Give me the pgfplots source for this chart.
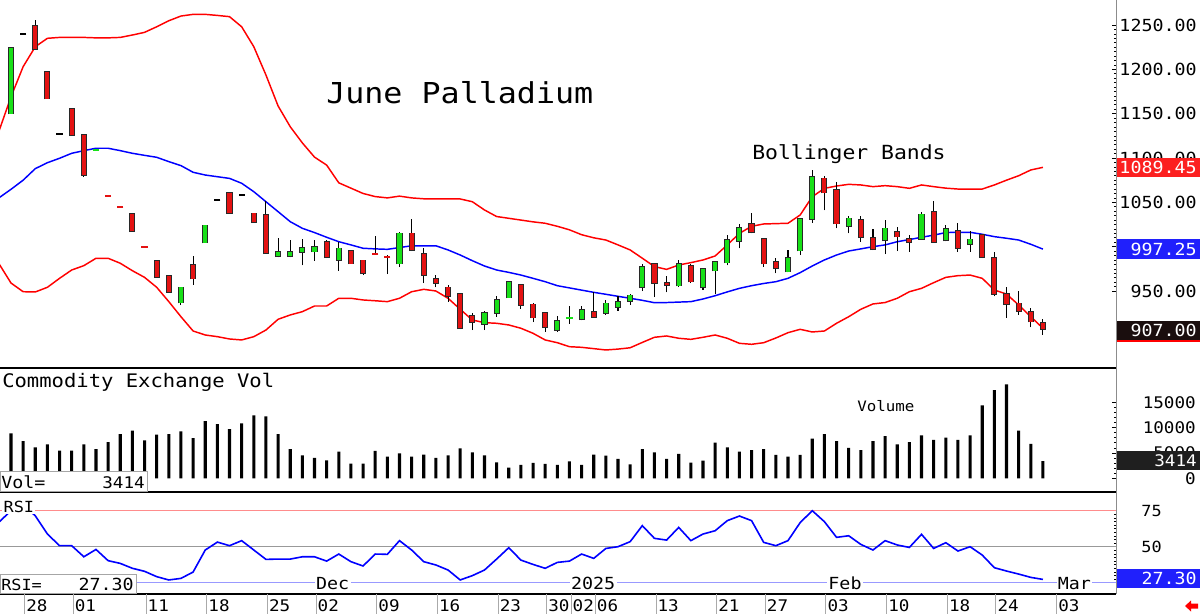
\documentclass[border=0pt]{standalone}
\usepackage{pgfplots}
\pgfplotsset{compat=1.18}
\usepackage{pgfplotstable}
\usepackage{fontspec}
\setmainfont{DejaVu Sans Mono}[FakeStretch=1.1]

\definecolor{cgreen}{RGB}{24,224,24}
\definecolor{cred}{RGB}{228,18,18}
\definecolor{cedge}{RGB}{40,40,40}
\definecolor{bandred}{RGB}{255,0,0}
\definecolor{bandblue}{RGB}{0,0,255}
\definecolor{boxred}{RGB}{252,32,32}
\definecolor{boxblue}{RGB}{32,32,252}
\definecolor{boxdark}{RGB}{26,14,14}
\definecolor{sepgray}{RGB}{170,170,170}

\newcommand\fs[1]{\fontsize{#1}{#1}\selectfont}

% daily candles, index = trading day from Fri 25 Oct 2024
% up days (close above open)
\pgfplotstableread{
idx open high low close
0 1150 1224 1150 1224
14 937 954 934 954
16 1004.5 1024 1004.5 1024
22 989 1010 988 994
23 989 1008 988 994
24 994 1009 979 999
25 994.5 1008 984 999.3
27 985 1005 973 998
32 981 1016 977 1015
39 913 928 906 925
40 925 944 921 940
41 942.5 960.5 942.5 960.5
45 906 922 904 916
47 918 933 917 929
49 925 940 923 936
50 932 944 928 938
51 939 947 934 945
52 954 981 950 977
55 956 985 955 981
57 954 976 951 974.5
58 973 984 946.6 982.4
59 982 1013 979 1007.6
60 1006.5 1026 998 1021.5
64 972 996 971 987
65 995.6 1032 990.6 1031
66 1031 1086.5 1027 1079
69 1023 1035 1015 1032
72 1007 1030 991.7 1020.7
75 1008.7 1039 1008 1036.5
77 1007 1024 1006 1019.6
79 1002.7 1018 994 1008.3
}\upcandles

% down days (close below open)
\pgfplotstableread{
idx open high low close
2 1249 1256 1222.6 1222.6
3 1197 1197 1167 1167
5 1155 1155 1125.5 1125.5
6 1126 1126 1079 1080.5
10 1037 1037 1017.3 1017.3
12 984 984 966 966
13 967 967 949 949
15 979 990 957 964
18 1061 1061 1038 1038
20 1037.6 1037.6 1027.5 1027.5
21 1036 1051.5 992 992.5
26 1005 1008 987 988
28 995 995 981 981
29 984.5 984.5 968 970
33 1015 1031 995 996
34 992 998 959 968
35 964 968 954 959
36 954 957 938 944
37 947 947 907 908
38 922 925 906 915
42 957 957 930 934
43 935 937 915 920
44 925 925 904 909
48 926.5 949 920 921
53 981 982 943 959
54 959.5 967 948.6 957
56 978 980 959 960.5
61 1026 1038 1015 1016
62 1009 1010 977.5 981
63 983 987 970 975.6
67 1077 1080 1041 1061
68 1064 1072.6 1020.7 1026
70 1030 1035 1005.6 1010.5
71 1010 1019.6 996 997
73 1016.5 1022.5 995 1011.3
74 1008.7 1013 994 1005
76 1039 1051 1005 1005.6
78 1018 1027 994 998
80 1013 1014 987 988
81 987 994 944 946.6
82 947 954 920 935
83 936 950 923 927
84 926 930.5 909 915.4
85 913.6 918 900.4 907
}\downcandles

% flat days (open = close), drawn as dashes
\pgfplotstableread{
idx open high low close
1 1240 1240 1240 1240
4 1127 1127 1127 1127
17 1052.3 1052.3 1052.3 1052.3
19 1058 1058 1058 1058
}\flatblack
\pgfplotstableread{
idx open high low close
7 1109 1109 1109 1109
46 919.2 933 913 919.2
}\flatgreen
\pgfplotstableread{
idx open high low close
8 1057 1057 1057 1057
9 1044.4 1044.4 1044.4 1044.4
11 1000 1000 1000 1000
30 991.4 1012 991 991.4
31 988.4 990.5 969 988.4
}\flatred

% Bollinger bands: upper, middle (20-day average), lower
\pgfplotstableread{
idx up mid lo
-1 1130 1055 981
0 1169 1064.7 959
1 1203 1075 949.2
2 1225.5 1088 948.9
3 1235 1094.7 954.2
4 1236 1099.7 964.3
5 1236 1105.3 973.7
6 1236 1108.3 978.6
7 1235.5 1111 986.9
8 1235.5 1111 986.9
9 1236 1108.3 981.3
10 1238.7 1105.3 972.9
11 1241.7 1103 965.4
12 1248 1100.8 954.2
13 1254.8 1095.9 938
14 1260.1 1091.4 921
15 1262 1083.9 904.9
16 1262 1080.8 900.4
17 1260.8 1078.9 898.5
18 1259.4 1077 895.9
19 1248 1071.5 894.8
20 1225.5 1062 898.5
21 1193.6 1050.7 906
22 1158.7 1039.5 918.1
23 1135.3 1028.2 923
24 1117 1020.7 926.7
25 1101 1015.9 933.1
26 1092 1010.6 933.1
27 1072 1005.6 941.8
28 1066 1002 941.8
29 1060 998.2 939.9
30 1056.5 997.5 939
31 1055 997 938
32 1057 999 941.8
33 1055 1001 949.2
34 1054 1001 951.9
35 1054 1001 950
36 1054 996.3 941.8
37 1053.8 990.6 929.4
38 1050.7 984.2 917.3
39 1041.4 978.2 914.3
40 1034 973.7 913.6
41 1032 971 911.7
42 1030 968 908
43 1028 964.3 902.3
44 1026.4 960.5 894.8
45 1023 956 891.7
46 1019 953.5 887.2
47 1013.5 951 886.5
48 1010 948.5 885
49 1007.5 946.3 883.5
50 1002 944 884.5
51 996.3 941.8 886
52 987 939.5 892
53 977.5 936.8 897.8
54 974.4 937 899.3
55 979.3 937.5 896.7
56 982 938 895.5
57 985 941 897.8
58 989.5 944.7 900.4
59 1002 949 896.7
60 1015 953 891
61 1023 956 889.9
62 1025.6 958.5 891.7
63 1026 960.5 897
64 1026.4 964.3 903
65 1035.7 970.7 906.8
66 1056.3 978.2 903.8
67 1065.8 985 904.9
68 1068.4 990.6 913.6
69 1070.3 995.1 921
70 1069.6 997.5 929.4
71 1067.7 1000 935.4
72 1068.8 1002 937
73 1067.7 1005.6 941.8
74 1065.8 1008 949.2
75 1069.6 1010.6 953
76 1067.7 1013 959.4
77 1066 1015.9 965.4
78 1065 1016.2 967.3
79 1065 1016.2 968
80 1065 1014 964.3
81 1069.6 1011.3 951.1
82 1075 1009.5 946.6
83 1080 1007.5 934.2
84 1086.5 1002.7 921
85 1089.45 997.25 908
}\bands

\pgfplotstableread{
idx vol
0 8870
1 7360
2 6110
3 6700
4 5450
5 5450
6 6700
7 5780
8 7160
9 8740
10 9400
11 7490
12 8610
13 8740
14 9260
15 7950
16 11300
17 10710
18 9720
19 10840
20 12420
21 12220
22 8740
23 5780
24 4530
25 4010
26 3550
27 5260
28 2890
29 2890
30 5390
31 4270
32 4930
33 4270
34 4660
35 4010
36 4530
37 5910
38 5120
39 4530
40 3150
41 2100
42 2630
43 3020
44 2830
45 2630
46 3350
47 2630
48 4660
49 4470
50 3810
51 2760
52 5780
53 5120
54 3810
55 4800
56 3090
57 3480
58 7030
59 6110
60 5260
61 5580
62 5780
63 4600
64 4270
65 4600
66 7820
67 8740
68 7360
69 5980
70 5580
71 7360
72 8340
73 6700
74 7160
75 8480
76 7560
77 8020
78 7560
79 8480
80 14390
81 17410
82 18530
83 9400
84 6770
85 3414
}\voltable

\pgfplotstableread{
idx rsi
-1 67
0 75
1 79
2 71.5
3 58.8
4 50.7
5 50.7
6 43
7 48.1
8 40.3
9 38.4
10 35
11 32.9
12 29.2
13 26.9
14 28
15 32.4
16 47.7
17 53.2
18 50.7
19 54.2
20 47.7
21 41.2
22 41.4
23 41.4
24 43
25 43
26 40
27 44.9
28 39.6
29 36.6
30 44.9
31 44.7
32 54.2
33 47.7
34 39.6
35 37.3
36 33.8
37 26.9
38 29.9
39 33.8
40 41.4
41 49.3
42 40.7
43 37.7
44 35
45 39.1
46 40
47 44.9
48 41.9
49 48.8
50 50
51 53.5
52 64.6
53 55.8
54 54.6
55 63.4
56 54.2
57 58.8
58 61.1
59 68.1
60 71.3
61 68.1
62 53
63 50.7
64 54.2
65 66.7
66 75
67 67.4
68 56.5
69 57.6
70 51.6
71 47.7
72 54.2
73 51.2
74 49.5
75 58.6
76 48.8
77 52.8
78 47
79 50
80 44.2
81 35.4
82 33.1
83 31
84 28.7
85 27.3
}\rsitable

\pgfplotsset{
  panel/.style={
    scale only axis, width=837pt,
    xmin=-0.906, xmax=91.02,
    axis x line*=bottom, axis y line*=right,
    axis line style={-},
    x axis line style={black, line width=1.4pt},
    y axis line style={black!45, line width=0.6pt},
    xtick=\empty,
    tick align=inside,
    ytick style={black, line width=0.5pt},
    major tick length=3pt, minor tick length=1.6pt,
    yticklabel style={anchor=east, inner sep=0pt},
    scaled y ticks=false,
  },
  % vertical segment from y up by the explicit "plus" error
  seg/.style 2 args={draw=none, mark=none, forget plot,
    error bars/.cd, y dir=plus, y explicit, error mark=none,
    error bar style={draw=#1, line width=#2, line cap=butt}},
  dash/.style={only marks, mark=-, mark size=2.3pt, forget plot,
    mark options={draw=#1, line width=1.35pt}},
}

\begin{document}
\begin{tikzpicture}
\useasboundingbox (0pt,0pt) rectangle (900pt,-460.5pt);

% ---- price panel ----
\begin{axis}[panel, at={(0pt,0pt)}, anchor=north west, height=276pt,
  ymin=863.17, ymax=1278.19,
  ytick={950,1000,...,1250},
  yticklabels={950.00,1000.00,1050.00,1100.00,1150.00,1200.00,1250.00},
  minor y tick num=9,
  yticklabel style={xshift=60.75pt, font=\fs{12.5pt}}]
  \addplot[bandred, line width=1.1pt] table[x=idx, y=up] {\bands};
  \addplot[bandblue, line width=1.1pt] table[x=idx, y=mid] {\bands};
  \addplot[bandred, line width=1.1pt] table[x=idx, y=lo] {\bands};
  % wicks
  \addplot[seg={black}{0.8pt}] table[x=idx, y=low, y error plus expr=\thisrow{high}-\thisrow{low}] {\upcandles};
  \addplot[seg={black}{0.8pt}] table[x=idx, y=low, y error plus expr=\thisrow{high}-\thisrow{low}] {\downcandles};
  \addplot[seg={black}{0.8pt}] table[x=idx, y=low, y error plus expr=\thisrow{high}-\thisrow{low}] {\flatgreen};
  \addplot[seg={black}{0.8pt}] table[x=idx, y=low, y error plus expr=\thisrow{high}-\thisrow{low}] {\flatred};
  % bodies: dark outline, then coloured fill
  \addplot[seg={cedge}{4.6pt}] table[x=idx, y expr=\thisrow{open}-0.9, y error plus expr=\thisrow{close}-\thisrow{open}+1.8] {\upcandles};
  \addplot[seg={cgreen}{3.1pt}] table[x=idx, y=open, y error plus expr=\thisrow{close}-\thisrow{open}] {\upcandles};
  \addplot[seg={cedge}{4.6pt}] table[x=idx, y expr=\thisrow{close}-0.9, y error plus expr=\thisrow{open}-\thisrow{close}+1.8] {\downcandles};
  \addplot[seg={cred}{3.1pt}] table[x=idx, y=close, y error plus expr=\thisrow{open}-\thisrow{close}] {\downcandles};
  % flat days
  \addplot[dash=black] table[x=idx, y=close] {\flatblack};
  \addplot[dash=cgreen] table[x=idx, y=close] {\flatgreen};
  \addplot[dash=cred] table[x=idx, y=close] {\flatred};
\end{axis}

% ---- volume panel ----
\begin{axis}[panel, at={(0pt,-276pt)}, anchor=north west, height=93pt,
  ymin=-2703, ymax=21762,
  ytick={0,5000,10000,15000},
  yticklabels={0,5000,10000,15000},
  minor y tick num=4,
  yticklabel style={xshift=60pt, font=\fs{12pt}}]
  \addplot[ybar, bar width=2.3pt, fill=black, draw=none] table[x=idx, y=vol] {\voltable};
\end{axis}

% ---- RSI panel ----
\begin{axis}[panel, at={(0pt,-369pt)}, anchor=north west, height=76.5pt,
  ymin=17.15, ymax=87.99,
  ytick={25,50,75},
  yticklabels={,50,75},
  minor y tick num=9,
  yticklabel style={xshift=34.5pt, font=\fs{11.5pt}},
  xtick={1,5,11,16,21,25,30,35,40,44,46,48,53,58,62,67,72,77,81,86},
  xticklabels={28,01,11,18,25,02,09,16,23,30,02,06,13,21,27,03,10,18,24,03},
  xtick style={draw=none},
  xticklabel style={anchor=north west, inner sep=0pt, xshift=2.2pt, yshift=-4pt, font=\fs{12pt}}]
  \draw[red!45, line width=0.6pt] (axis cs:-0.906,75) -- (axis cs:91.02,75);
  \draw[black!40, line width=0.6pt] (axis cs:-0.906,50) -- (axis cs:91.02,50);
  \draw[blue!40, line width=0.6pt] (axis cs:-0.906,25) -- (axis cs:91.02,25);
  \addplot[bandblue, line width=1.2pt] table[x=idx, y=rsi] {\rsitable};
  \node[anchor=base west, fill=white, inner sep=1pt, font=\fs{12.5pt}] at (axis cs:25,20.6) {Dec};
  \node[anchor=base west, fill=white, inner sep=1pt, font=\fs{12.5pt}] at (axis cs:46,20.6) {2025};
  \node[anchor=base west, fill=white, inner sep=1pt, font=\fs{12.5pt}] at (axis cs:67.2,20.6) {Feb};
  \node[anchor=base west, fill=white, inner sep=1pt, font=\fs{12.5pt}] at (axis cs:86.1,20.6) {Mar};
\end{axis}

% ---- annotations, value boxes and date separators (pixel grid) ----
\begin{scope}[x=0.75pt, y=-0.75pt]
  \draw[black, line width=1.2pt] (0,492.5) -- (1116,492.5);
  \foreach \i in {1,5,11,16,21,25,30,35,40,44,46,48,53,58,62,67,72,77,81,86}
    \draw[sepgray, line width=0.6pt] ({11+12.14*\i+1.5},594) -- ({11+12.14*\i+1.5},614);

  \node[anchor=base west, inner sep=0pt, font=\fs{21.6pt}] at (326,103) {June Palladium};
  \node[anchor=base west, inner sep=0pt, font=\fs{14.6pt}] at (752,159) {Bollinger Bands};
  \node[anchor=base west, inner sep=0pt, font=\fs{10.8pt}] at (857,411) {Volume};
  \node[anchor=base west, inner sep=0pt, font=\fs{14pt}] at (2,387) {Commodity Exchange Vol};

  \draw[black!35, fill=white, line width=0.6pt] (0,471.5) rectangle (147,491.5);
  \node[anchor=base west, inner sep=0pt, font=\fs{12.5pt}] at (1,488) {Vol=};
  \node[anchor=base east, inner sep=0pt, font=\fs{12pt}] at (145,488) {3414};

  \node[anchor=base west, fill=white, inner sep=1pt, font=\fs{11.5pt}] at (2,512) {RSI};
  \draw[black!35, fill=white, line width=0.6pt] (0,574) rectangle (136,593.5);
  \node[anchor=base west, inner sep=0pt, font=\fs{11.5pt}] at (1,590) {RSI=};
  \node[anchor=base east, inner sep=0pt, font=\fs{12.5pt}] at (134,590) {27.30};

  \fill[boxred] (1117,158.3) rectangle (1200,177.3);
  \node[anchor=east, inner sep=0pt, text=white, font=\fs{12.5pt}] at (1197,167.8) {1089.45};
  \fill[boxblue] (1117,239.3) rectangle (1200,259);
  \node[anchor=east, inner sep=0pt, text=white, font=\fs{12.5pt}] at (1197,249.2) {997.25};
  \fill[boxdark] (1117,320.5) rectangle (1200,339.7);
  \fill[bandred] (1117,339.7) rectangle (1200,341.7);
  \node[anchor=east, inner sep=0pt, text=white, font=\fs{12.5pt}] at (1197,330) {907.00};
  \fill[black!88] (1117,450.7) rectangle (1200,470);
  \node[anchor=east, inner sep=0pt, text=white, font=\fs{12pt}] at (1197,460.4) {3414};
  \fill[boxblue] (1117,569) rectangle (1200,588.3);
  \node[anchor=east, inner sep=0pt, text=white, font=\fs{12.5pt}] at (1197,578.7) {27.30};

  \fill[bandred] (1185,606) -- (1191,600.5) -- (1191,603.5) -- (1198,603.5)
    -- (1198,608.5) -- (1191,608.5) -- (1191,611.5) -- cycle;
\end{scope}
\end{tikzpicture}
\end{document}
